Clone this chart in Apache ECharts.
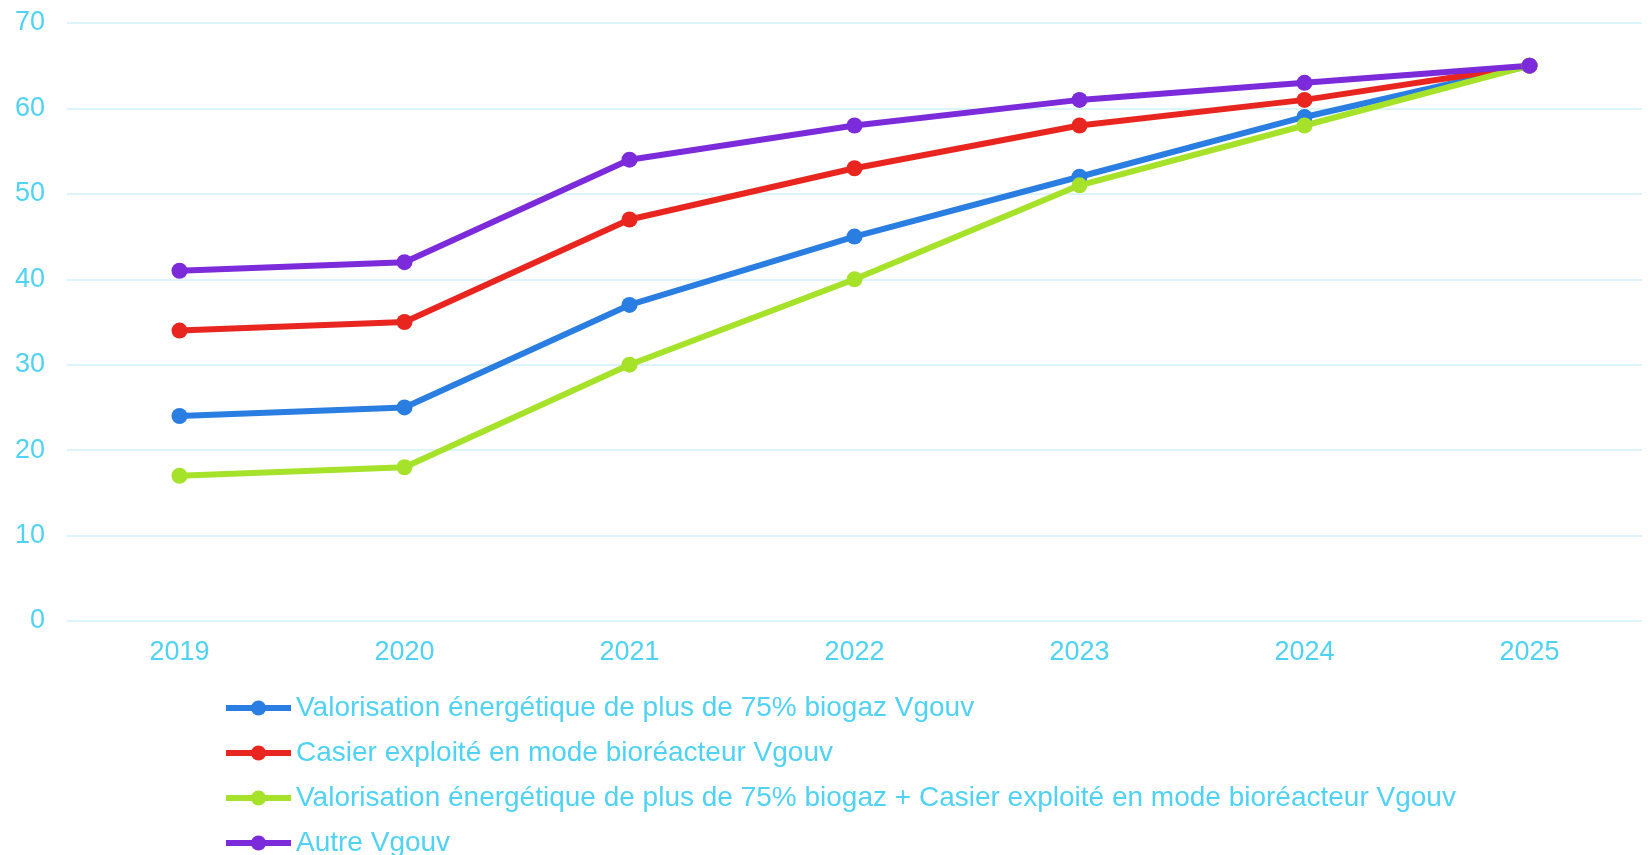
<!DOCTYPE html>
<html>
<head>
<meta charset="utf-8">
<script src="https://cdn.jsdelivr.net/npm/echarts@6/dist/echarts.min.js"></script>
<style>
  html, body { margin: 0; padding: 0; background: #fff; }
  #chart { width: 1648px; height: 855px; }
</style>
</head>
<body>
<div id="chart"></div>
<script>
const years = ['2019', '2020', '2021', '2022', '2023', '2024', '2025']

const seriesNames = [
  'Valorisation énergétique de plus de 75% biogaz Vgouv',
  'Casier exploité en mode bioréacteur Vgouv',
  'Valorisation énergétique de plus de 75% biogaz + Casier exploité en mode bioréacteur Vgouv',
  'Autre Vgouv',
]

const biogazValues = [24, 25, 37, 45, 52, 59, 65]
const bioreacteurValues = [34, 35, 47, 53, 58, 61, 65]
const combinedValues = [17, 18, 30, 40, 51, 58, 65]
const autreValues = [41, 42, 54, 58, 61, 63, 65]

const colors = ['#2a7de1', '#e8261f', '#a6e22a', '#7b2bd9']
const textColor = '#4fd2f4'
const font = '"Liberation Sans", Arial, sans-serif'

const chart = echarts.init(document.getElementById('chart'))

function lineSeries(name, data, color) {
  return {
    name,
    type: 'line',
    data,
    symbol: 'circle',
    symbolSize: 16,
    lineStyle: { width: 6, color },
    itemStyle: { color },
    emphasis: { disabled: true },
  }
}

chart.setOption({
  animation: false,
  textStyle: { fontFamily: font },
  grid: { left: 67, right: 6, top: 23, height: 598 },
  legend: {
    orient: 'vertical',
    left: 218,
    top: 689,
    height: 220,
    itemWidth: 65,
    itemHeight: 19,
    itemGap: 17,
    lineStyle: { width: 6 },
    textStyle: { color: textColor, fontSize: 28, fontFamily: font },
    data: seriesNames,
  },
  xAxis: {
    type: 'category',
    data: years,
    boundaryGap: true,
    axisLine: { show: false },
    axisTick: { show: false },
    axisLabel: { color: textColor, fontSize: 27, margin: 18 },
  },
  yAxis: {
    type: 'value',
    min: 0,
    max: 70,
    interval: 10,
    axisLine: { show: false },
    axisTick: { show: false },
    axisLabel: { color: textColor, fontSize: 27, margin: 22 },
    splitLine: { lineStyle: { color: '#dcf5fc', width: 2 } },
  },
  series: [
    lineSeries(seriesNames[0], biogazValues, colors[0]),
    lineSeries(seriesNames[1], bioreacteurValues, colors[1]),
    lineSeries(seriesNames[2], combinedValues, colors[2]),
    lineSeries(seriesNames[3], autreValues, colors[3]),
  ],
})
</script>
</body>
</html>
